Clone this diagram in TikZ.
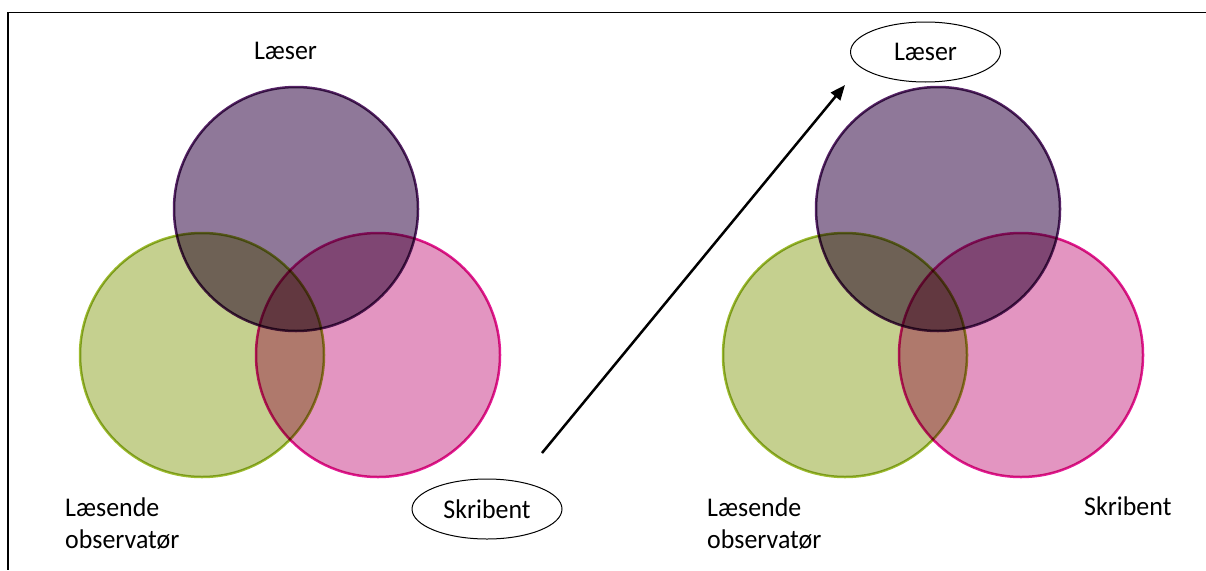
\documentclass[tikz,border=0pt]{standalone}
\usepackage{fontspec}
\setmainfont[FakeStretch=0.96]{Carlito}
\usetikzlibrary{arrows.meta,shapes.geometric}
\definecolor{pfill}{RGB}{143,120,153}
\definecolor{gfill}{RGB}{197,208,143}
\definecolor{kfill}{RGB}{227,149,193}
\definecolor{pline}{RGB}{88,36,104}
\definecolor{gline}{RGB}{158,188,48}
\definecolor{kline}{RGB}{228,28,150}
\tikzset{
  lbl/.style={font=\fontsize{27}{32}\selectfont, inner sep=0pt},
  venn/.style={circle, minimum size=244pt, inner sep=0pt, line width=2.5pt, blend mode=multiply},
  oval/.style={ellipse, draw=black, line width=1pt, minimum width=150pt, minimum height=60pt, inner sep=0pt, font=\fontsize{27}{32}\selectfont},
  frameline/.style={line width=1.5pt, draw=black}
}
\begin{document}
\begin{tikzpicture}[x=1pt,y=-1pt]
\useasboundingbox (0,0) rectangle (1206,570);
\coordinate (ftr) at (1206,12.5);
\coordinate (ftl) at (8,12.5);
\coordinate (fbl) at (8,570);
\draw[frameline] (ftr) -- (ftl) -- (fbl);
% left Venn
\node[venn, draw=gline, fill=gfill] (lg) at (202,355) {};
\node[venn, draw=kline, fill=kfill] (lk) at (378,355) {};
\node[venn, draw=pline, fill=pfill] (lp) at (296,209) {};
% right Venn
\node[venn, draw=gline, fill=gfill] (rg) at (845,355) {};
\node[venn, draw=kline, fill=kfill] (rk) at (1021,355) {};
\node[venn, draw=pline, fill=pfill] (rp) at (938,209) {};
% labels left
\node[lbl, anchor=base] (llaeser) at (285.5,59) {Læser};
\node[lbl, anchor=base west] (llaes) at (65,516) {Læsende};
\node[lbl, anchor=base west] (lobs) at (65,548) {observatør};
\node[oval] (lskr) at (487,509) {Skribent};
% labels right
\node[oval] (rlaeser) at (925.5,52) {Læser};
\node[lbl, anchor=base west] (rlaes) at (707,516) {Læsende};
\node[lbl, anchor=base west] (robs) at (707,548) {observatør};
\node[lbl, anchor=base west] (rskr) at (1084,515) {Skribent};
% arrow
\coordinate (as) at (542,453);
\coordinate (ae) at (845,85);
\draw[line width=2.5pt, -{Triangle[length=15pt,width=12pt]}] (as) -- (ae);
\end{tikzpicture}
\end{document}
